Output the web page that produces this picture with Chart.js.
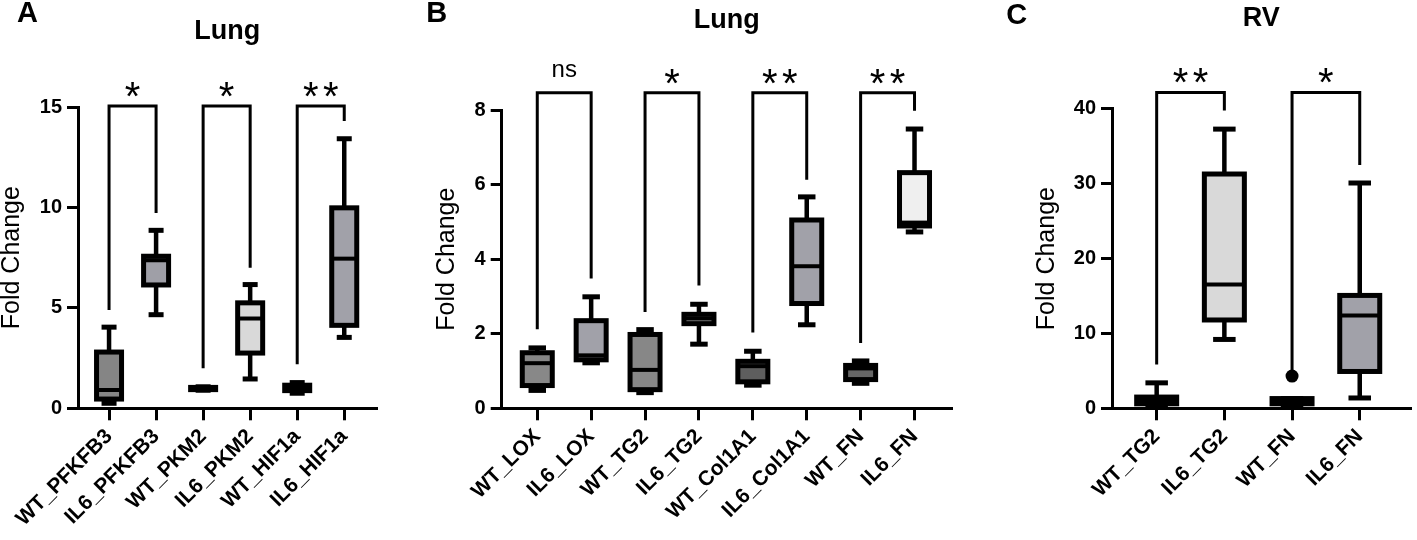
<!DOCTYPE html>
<html>
<head>
<meta charset="utf-8">
<script src="https://cdn.jsdelivr.net/npm/chart.js@4.4.1/dist/chart.umd.min.js"></script>
<style>
  body { margin: 0; background: #fff; width: 1417px; height: 540px; overflow: hidden; position: relative; }
  .panel { position: absolute; top: 0; height: 540px; }
</style>
</head>
<body>
<div class="panel" style="left:0px"><canvas id="chartA" width="400" height="540"></canvas></div>
<div class="panel" style="left:420px"><canvas id="chartB" width="540" height="540"></canvas></div>
<div class="panel" style="left:960px"><canvas id="chartC" width="457" height="540"></canvas></div>
<script>
// ---- panel A : Lung (glycolysis genes)
const catsA = ['WT_PFKFB3', 'IL6_PFKFB3', 'WT_PKM2', 'IL6_PKM2', 'WT_HIF1a', 'IL6_HIF1a'];
const minA = [0.25, 4.66, 0.90, 1.46, 0.75, 3.53];
const q1A  = [0.46, 6.14, 0.93, 2.75, 0.88, 4.13];
const medA = [0.91, 7.37, 0.98, 4.47, 1.00, 7.45];
const q3A  = [2.80, 7.57, 1.04, 5.25, 1.15, 9.98];
const maxA = [4.04, 8.86, 1.07, 6.16, 1.28, 13.42];
const colorsA = ['#858585', '#9f9fa7', '#808080', '#d9d9d9', '#808080', '#a1a1a9'];
const ticksA = [0, 5, 10, 15];
const pairsA = [[0, 1], [2, 3], [4, 5]];
const sigA = ['*', '*', '**'];
const legLeftA = [4.9, 2.0, 2.19];
const legRightA = [9.72, 7.0, 14.3];
const topA = 15.05;

// ---- panel B : Lung (fibrosis genes)
const catsB = ['WT_LOX', 'IL6_LOX', 'WT_TG2', 'IL6_TG2', 'WT_Col1A1', 'IL6_Col1A1', 'WT_FN', 'IL6_FN'];
const minB = [0.48, 1.22, 0.42, 1.72, 0.62, 2.24, 0.67, 4.73];
const q1B  = [0.61, 1.30, 0.50, 2.27, 0.71, 2.81, 0.77, 4.89];
const medB = [1.21, 1.42, 1.03, 2.41, 1.13, 3.81, 1.07, 4.98];
const q3B  = [1.49, 2.35, 1.98, 2.52, 1.26, 5.05, 1.15, 6.32];
const maxB = [1.62, 2.99, 2.11, 2.79, 1.53, 5.67, 1.27, 7.49];
const colorsB = ['#888888', '#a1a1a9', '#878787', '#9a9a9a', '#5e5e5e', '#a1a1a9', '#666666', '#efefef'];
const ticksB = [0, 2, 4, 6, 8];
const pairsB = [[0, 1], [2, 3], [4, 5], [6, 7]];
const sigB = ['ns', '*', '**', '**'];
const legLeftB = [2.12, 2.58, 2.03, 1.75];
const legRightB = [3.48, 3.29, 6.13, 7.98];
const topB = 8.46;

// ---- panel C : RV
const catsC = ['WT_TG2', 'IL6_TG2', 'WT_FN', 'IL6_FN'];
const minC = [0.2, 9.2, 0.2, 1.38];
const q1C  = [0.6, 11.8, 0.6, 4.92];
const medC = [1.0, 16.55, 0.95, 12.41];
const q3C  = [1.5, 31.3, 1.3, 15.08];
const maxC = [3.4, 37.3, 1.3, 30.1];
const outIdxC = [2];
const outValC = [4.3];
const colorsC = ['#808080', '#d9d9d9', '#666666', '#a1a1a9'];
const ticksC = [0, 10, 20, 30, 40];
const pairsC = [[0, 1], [2, 3]];
const sigC = ['**', '*'];
const legLeftC = [5.84, 5.0];
const legRightC = [39.77, 32.5];
const topC = 42.2;

Chart.defaults.font.family = "'Liberation Sans', Arial, sans-serif";
Chart.defaults.color = '#000';

const FONT = "'Liberation Sans', Arial, sans-serif";

// whiskers, box outlines and medians on top of the floating bars
const boxPlugin = {
  id: 'boxes',
  afterDatasetsDraw(chart, args, o) {
    const { ctx, scales: { y } } = chart;
    const bars = chart.getDatasetMeta(0).data;
    const line = (x1, y1, x2, y2) => { ctx.beginPath(); ctx.moveTo(x1, y1); ctx.lineTo(x2, y2); ctx.stroke(); };
    ctx.save();
    ctx.strokeStyle = '#000';
    ctx.lineCap = 'butt';
    bars.forEach((bar, i) => {
      const cx = bar.x, w = bar.width;
      const pMin = y.getPixelForValue(o.min[i]), pQ1 = y.getPixelForValue(o.q1[i]);
      const pMed = y.getPixelForValue(o.med[i]), pQ3 = y.getPixelForValue(o.q3[i]);
      const pMax = y.getPixelForValue(o.max[i]);
      const capW = (w + 5) * 0.5;
      ctx.lineWidth = 4.5;
      line(cx, pQ3, cx, pMax);
      line(cx, pQ1, cx, pMin);
      ctx.lineWidth = 5;
      line(cx - capW / 2, pMax, cx + capW / 2, pMax);
      line(cx - capW / 2, pMin, cx + capW / 2, pMin);
      ctx.strokeRect(cx - w / 2, pQ3, w, pQ1 - pQ3);
      ctx.lineWidth = 4;
      line(cx - w / 2, pMed, cx + w / 2, pMed);
    });
    ctx.restore();
  }
};

// significance brackets, panel letter and title
const decorPlugin = {
  id: 'decor',
  afterDraw(chart, args, o) {
    const { ctx, chartArea, scales: { x, y } } = chart;
    ctx.save();
    ctx.strokeStyle = '#000';
    ctx.fillStyle = '#000';
    ctx.lineWidth = 3;
    ctx.lineJoin = 'miter';
    const top = y.getPixelForValue(o.top);
    o.pairs.forEach((p, k) => {
      const x1 = x.getPixelForValue(p[0]), x2 = x.getPixelForValue(p[1]);
      ctx.beginPath();
      ctx.moveTo(x1, y.getPixelForValue(o.legLeft[k]));
      ctx.lineTo(x1, top);
      ctx.lineTo(x2, top);
      ctx.lineTo(x2, y.getPixelForValue(o.legRight[k]));
      ctx.stroke();
      const cx = (x1 + x2) / 2, lab = o.labels[k];
      ctx.textAlign = 'center';
      ctx.textBaseline = 'alphabetic';
      if (lab === 'ns') {
        ctx.font = '24px ' + FONT;
        ctx.fillText(lab, cx, top - 15.5);
      } else {
        ctx.font = '40px ' + FONT;
        const n = lab.length;
        for (let j = 0; j < n; j++) ctx.fillText('*', cx + (j - (n - 1) / 2) * 20, top + 4);
      }
    });
    ctx.textAlign = 'center';
    ctx.textBaseline = 'middle';
    ctx.font = 'bold 29px ' + FONT;
    ctx.fillText(o.letter, o.letterX, o.letterY);
    ctx.font = 'bold 27px ' + FONT;
    ctx.fillText(o.title, (chartArea.left + chartArea.right) / 2, o.titleY);
    ctx.restore();
  }
};

const buildPanel = (id, p) => {
  const datasets = [{
    type: 'bar',
    data: p.cats.map((c, i) => ({ x: i, y: [p.q1[i], p.q3[i]] })),
    backgroundColor: p.colors,
    borderWidth: 0,
    barThickness: p.barW,
    grouped: false
  }];
  if (p.outIdx) {
    datasets.push({
      type: 'scatter',
      data: p.outIdx.map((idx, k) => ({ x: idx, y: p.outVal[k] })),
      backgroundColor: '#000',
      borderWidth: 0,
      pointRadius: 6.5
    });
  }
  return new Chart(document.getElementById(id), {
    type: 'bar',
    data: { datasets },
    plugins: [boxPlugin, decorPlugin],
    options: {
      responsive: false,
      animation: false,
      events: [],
      layout: { padding: { top: p.plotTop, left: p.padLeft, right: p.width - p.plotRight, bottom: 0 } },
      plugins: {
        legend: { display: false },
        tooltip: { enabled: false },
        boxes: { min: p.min, q1: p.q1, med: p.med, q3: p.q3, max: p.max },
        decor: {
          pairs: p.pairs, labels: p.sig, legLeft: p.legLeft, legRight: p.legRight, top: p.top,
          letter: p.letter, letterX: p.letterX, letterY: p.letterY, title: p.title, titleY: p.titleY
        }
      },
      scales: {
        x: {
          type: 'linear',
          offset: false,
          min: -0.66,
          max: p.cats.length - 1 + p.rightGap,
          afterBuildTicks: s => { s.ticks = p.cats.map((c, i) => ({ value: i })); },
          afterFit: s => { s.height = 540 - p.plotBottom; },
          ticks: {
            callback: v => p.cats[v],
            autoSkip: false, minRotation: 45, maxRotation: 45,
            font: { weight: 'bold', size: 21 }, color: '#000', padding: 4
          },
          grid: { offset: false, drawOnChartArea: false, tickLength: 12, color: '#000', lineWidth: 3 },
          border: { color: '#000', width: 3 }
        },
        y: {
          min: 0,
          max: p.ticks[p.ticks.length - 1],
          afterBuildTicks: s => { s.ticks = p.ticks.map(v => ({ value: v })); },
          afterFit: s => { s.width = p.plotLeft - p.padLeft; },
          ticks: { font: { weight: 'bold', size: 20 }, color: '#000', padding: 5 },
          grid: { drawOnChartArea: false, tickLength: 11, color: '#000', lineWidth: 3 },
          border: { color: '#000', width: 3 },
          title: { display: true, text: 'Fold Change', font: { size: 25, lineHeight: 1 }, color: '#000', padding: 0 }
        }
      }
    }
  });
};

buildPanel('chartA', {
  cats: catsA, min: minA, q1: q1A, med: medA, q3: q3A, max: maxA, colors: colorsA, ticks: ticksA,
  pairs: pairsA, sig: sigA, legLeft: legLeftA, legRight: legRightA, top: topA,
  letter: 'A', letterX: 27.5, letterY: 14, title: 'Lung', titleY: 31.8,
  width: 400, plotLeft: 78, plotRight: 376.7, plotTop: 107, plotBottom: 408.3, padLeft: 0, barW: 25, rightGap: 0.69
});
buildPanel('chartB', {
  cats: catsB, min: minB, q1: q1B, med: medB, q3: q3B, max: maxB, colors: colorsB, ticks: ticksB,
  pairs: pairsB, sig: sigB, legLeft: legLeftB, legRight: legRightB, top: topB,
  letter: 'B', letterX: 16.7, letterY: 14, title: 'Lung', titleY: 20.7,
  width: 540, plotLeft: 81.7, plotRight: 531.7, plotTop: 110, plotBottom: 408.3, padLeft: 14.8, barW: 30, rightGap: 0.69
});
buildPanel('chartC', {
  cats: catsC, min: minC, q1: q1C, med: medC, q3: q3C, max: maxC, colors: colorsC, ticks: ticksC,
  outIdx: outIdxC, outVal: outValC,
  pairs: pairsC, sig: sigC, legLeft: legLeftC, legRight: legRightC, top: topC,
  letter: 'C', letterX: 56.7, letterY: 15.6, title: 'RV', titleY: 19,
  width: 457, plotLeft: 152, plotRight: 457, plotTop: 108.9, plotBottom: 408.3, padLeft: 74.2, barW: 40, rightGap: 0.75
});
</script>
</body>
</html>
